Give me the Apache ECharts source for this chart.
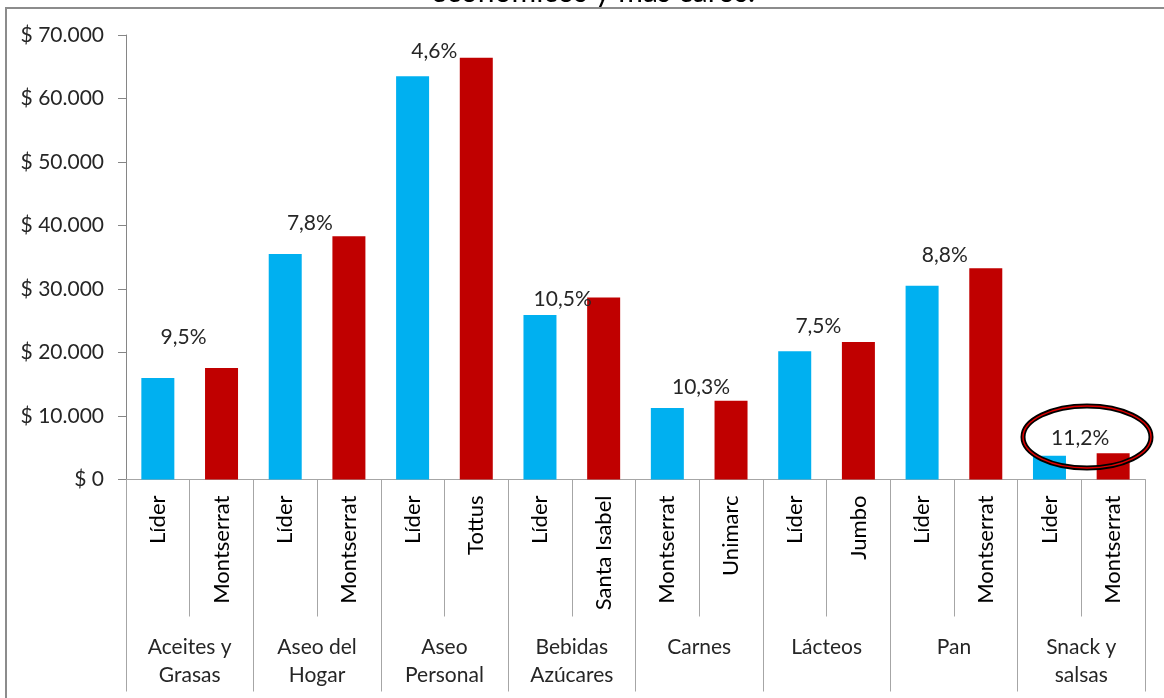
<!DOCTYPE html>
<html>
<head>
<meta charset="utf-8">
<script src="https://cdn.jsdelivr.net/npm/echarts@6/dist/echarts.min.js"></script>
<style>
  html, body { margin: 0; padding: 0; background: #fff; }
  #chart { width: 1164px; height: 698px; }
</style>
</head>
<body>
<div id="chart"></div>
<script>
// datos del gráfico
const categories = ['Aceites y\nGrasas', 'Aseo del\nHogar', 'Aseo\nPersonal', 'Bebidas\nAzúcares', 'Carnes', 'Lácteos', 'Pan', 'Snack y\nsalsas']
const cheapStores = ['Líder', 'Líder', 'Líder', 'Líder', 'Montserrat', 'Líder', 'Líder', 'Líder']
const expensiveStores = ['Montserrat', 'Montserrat', 'Tottus', 'Santa Isabel', 'Unimarc', 'Jumbo', 'Montserrat', 'Montserrat']
const cheapPrices = [16000, 35500, 63500, 25900, 11260, 20200, 30500, 3750]
const expensivePrices = [17550, 38300, 66400, 28650, 12400, 21650, 33250, 4150]
const pctLabels = ['9,5%', '7,8%', '4,6%', '10,5%', '10,3%', '7,5%', '8,8%', '11,2%']

// desplazamiento manual de las etiquetas (como en el Excel)
const labelOffsets = [[-38, -15], [-39, 2], [-42, 9], [-41, 17], [-30, 2], [-40, 0], [-41, 2], [-33, 1]]

const FONT = 'Lato'
const BLUE = '#00b0f0'
const RED = '#c00000'
const GRAY = '#a6a6a6'

// 16 posiciones: tienda barata y cara de cada categoría
const stores = []
const blueData = []
const redData = []
categories.forEach((c, i) => {
  stores.push(cheapStores[i], expensiveStores[i])
  blueData.push(cheapPrices[i], '-')
  redData.push('-', {
    value: expensivePrices[i],
    label: { formatter: pctLabels[i], offset: labelOffsets[i] }
  })
})

const fmt = v => '$ ' + String(v).replace(/\B(?=(\d{3})+(?!\d))/g, '.')

const chartDom = document.getElementById('chart')
const myChart = echarts.init(chartDom, null, { renderer: 'canvas' })

const option = {
  animation: false,
  textStyle: { fontFamily: FONT },
  grid: { left: 126, right: 19, top: 35, bottom: 218.5, containLabel: false },
  xAxis: [
    {
      type: 'category',
      data: stores,
      boundaryGap: true,
      axisLine: { show: true, lineStyle: { color: GRAY } },
      axisTick: { show: true, interval: 0, alignWithLabel: false, length: 137, lineStyle: { color: GRAY, width: 1 } },
      axisLabel: {
        interval: 0, rotate: 90, margin: 16,
        fontFamily: FONT, fontSize: 22, color: '#000'
      }
    },
    {
      type: 'category',
      data: categories,
      position: 'bottom',
      boundaryGap: true,
      axisLine: { show: true, lineStyle: { color: GRAY } },
      axisTick: { show: true, interval: 0, alignWithLabel: false, length: 212, lineStyle: { color: GRAY, width: 1 } },
      axisLabel: {
        interval: 0, margin: 154, lineHeight: 28,
        fontFamily: FONT, fontSize: 21, color: '#262626'
      }
    }
  ],
  yAxis: {
    type: 'value',
    min: 0, max: 70000, interval: 10000,
    axisLine: { show: true, lineStyle: { color: '#868686' } },
    axisTick: { show: true, length: 8, lineStyle: { color: '#868686' } },
    splitLine: { show: false },
    axisLabel: {
      margin: 22, fontFamily: FONT, fontSize: 21, color: '#262626',
      formatter: fmt
    }
  },
  series: [
    {
      name: 'Más económico',
      type: 'bar',
      xAxisIndex: 0,
      data: blueData,
      barWidth: 33,
      barGap: '-100%',
      itemStyle: { color: BLUE }
    },
    {
      name: 'Más caro',
      type: 'bar',
      xAxisIndex: 0,
      data: redData,
      barWidth: 33,
      barGap: '-100%',
      itemStyle: { color: RED },
      label: {
        show: true, position: 'top', distance: 5,
        fontFamily: FONT, fontSize: 21, color: '#262626'
      }
    }
  ],
  graphic: [
    {
      type: 'rect', silent: true, z: -1,
      shape: { x: 6, y: 8, width: 1300, height: 900 },
      style: { fill: 'none', stroke: '#8c8c8c', lineWidth: 2 }
    },
    {
      type: 'text', x: 593, y: -23,
      style: { text: 'económicos y más caros.', fontFamily: FONT, fontSize: 30, fill: '#000', align: 'center' }
    },
    {
      type: 'ellipse', z: 100,
      shape: { cx: 1087, cy: 437, rx: 64, ry: 31 },
      style: { fill: 'none', stroke: '#000', lineWidth: 5 }
    },
    {
      type: 'ellipse', z: 101,
      shape: { cx: 1087, cy: 437, rx: 64, ry: 31 },
      style: { fill: 'none', stroke: '#e00000', lineWidth: 1.5 }
    }
  ]
}

myChart.setOption(option)
</script>
</body>
</html>
